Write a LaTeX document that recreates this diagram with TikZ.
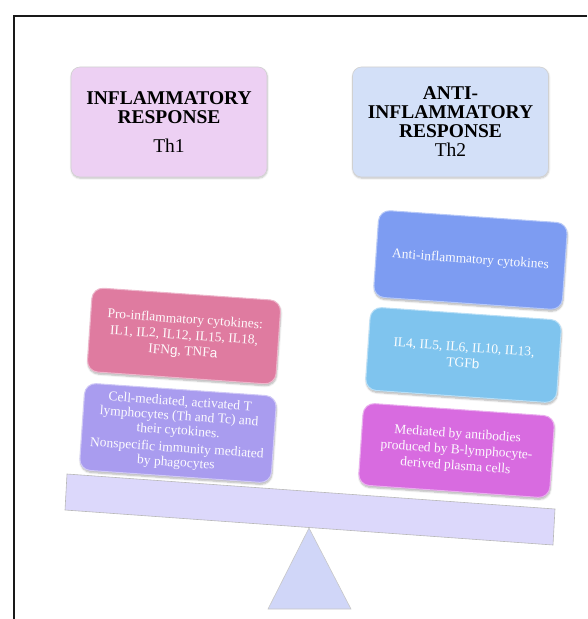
\documentclass[tikz,border=0pt]{standalone}
\usepackage{fontspec}
\setmainfont{Liberation Serif}
\newfontfamily\grk{Liberation Sans}
\usetikzlibrary{shadows.blur}
\definecolor{hdrA}{HTML}{EDD0F3}
\definecolor{hdrB}{HTML}{D3E0F8}
\definecolor{cPink}{HTML}{DF7BA0}
\definecolor{cLav}{HTML}{A99CEF}
\definecolor{cBlue}{HTML}{7D9CF2}
\definecolor{cCyan}{HTML}{7FC4EE}
\definecolor{cMag}{HTML}{D86BE0}
\definecolor{cBeam}{HTML}{DCD8FB}
\definecolor{cTri}{HTML}{D0D6F8}
\begin{document}
\begin{tikzpicture}[x=1pt,y=-1pt,
  hdr/.style={fill=#1, draw=black!18, line width=0.6pt, rounded corners=9pt,
    minimum width=196pt, minimum height=110pt, inner sep=0pt, align=center,
    font=\fontsize{19.5}{19}\selectfont\bfseries,
    blur shadow={shadow xshift=0.4pt, shadow yshift=-1.2pt, shadow blur steps=6, shadow opacity=25}},
  cbox/.style={fill=#1, draw=#1!55!white, line width=1pt, rounded corners=11pt,
    rotate=-4, inner sep=0pt, align=center, text=white!96!#1,
    font=\fontsize{13.5}{16}\selectfont,
    blur shadow={shadow xshift=0.5pt, shadow yshift=-2pt, shadow blur steps=6, shadow opacity=30}},
  frameline/.style={line width=2pt, black!90}
]
\useasboundingbox (0,0) rectangle (587,619);
% frame
\coordinate (f1) at (13,16);
\coordinate (f2) at (587,16);
\coordinate (f0) at (14,15);
\coordinate (f3) at (14,619);
\draw[frameline] (f2) -- (f1);
\draw[frameline] (f0) -- (f3);

% headers
\node[hdr=hdrA] (h1) at (169,122) {INFLAMMATORY\\RESPONSE\\[10pt]{\mdseries Th1}};
\node[hdr=hdrB] (h2) at (450.5,122) {ANTI-\\INFLAMMATORY\\RESPONSE\\{\mdseries Th2}};

% left stack
\node[cbox=cPink, minimum width=189pt, minimum height=84pt] (pink) at (184,336)
  {Pro-inflammatory cytokines:\\IL1, IL2, IL12, IL15, IL18,\\IFN{\grk g}, TNF{\grk a}};
\node[cbox=cLav, minimum width=192pt, minimum height=87pt, font=\fontsize{13.5}{14.5}\selectfont] (lav) at (178,433)
  {Cell-mediated, activated T\\lymphocytes (Th and Tc) and\\their cytokines.\\[3pt]Nonspecific immunity mediated\\by phagocytes};

% right stack
\node[cbox=cBlue, minimum width=189pt, minimum height=87pt] (blue) at (470.5,260)
  {Anti-inflammatory cytokines};
\node[cbox=cCyan, minimum width=191.5pt, minimum height=83pt] (cyan) at (463.5,355)
  {IL4, IL5, IL6, IL10, IL13,\\TGF{\grk b}};
\node[cbox=cMag, minimum width=191.5pt, minimum height=82pt] (mag) at (456.5,450.5)
  {Mediated by antibodies\\produced by B-lymphocyte-\\derived plasma cells};

% beam
\coordinate (bTL) at (67,474);
\coordinate (bTR) at (555,509);
\coordinate (bBR) at (553,545);
\coordinate (bBL) at (65,510);
\draw[fill=cBeam, draw=black!28, line width=0.6pt] (bTL) -- (bTR) -- (bBR) -- (bBL) -- cycle;

% fulcrum
\coordinate (tA) at (309,528);
\coordinate (tL) at (268,609);
\coordinate (tR) at (351,609);
\draw[fill=cTri, draw=black!22, line width=0.6pt] (tA) -- (tR) -- (tL) -- cycle;
\end{tikzpicture}
\end{document}
